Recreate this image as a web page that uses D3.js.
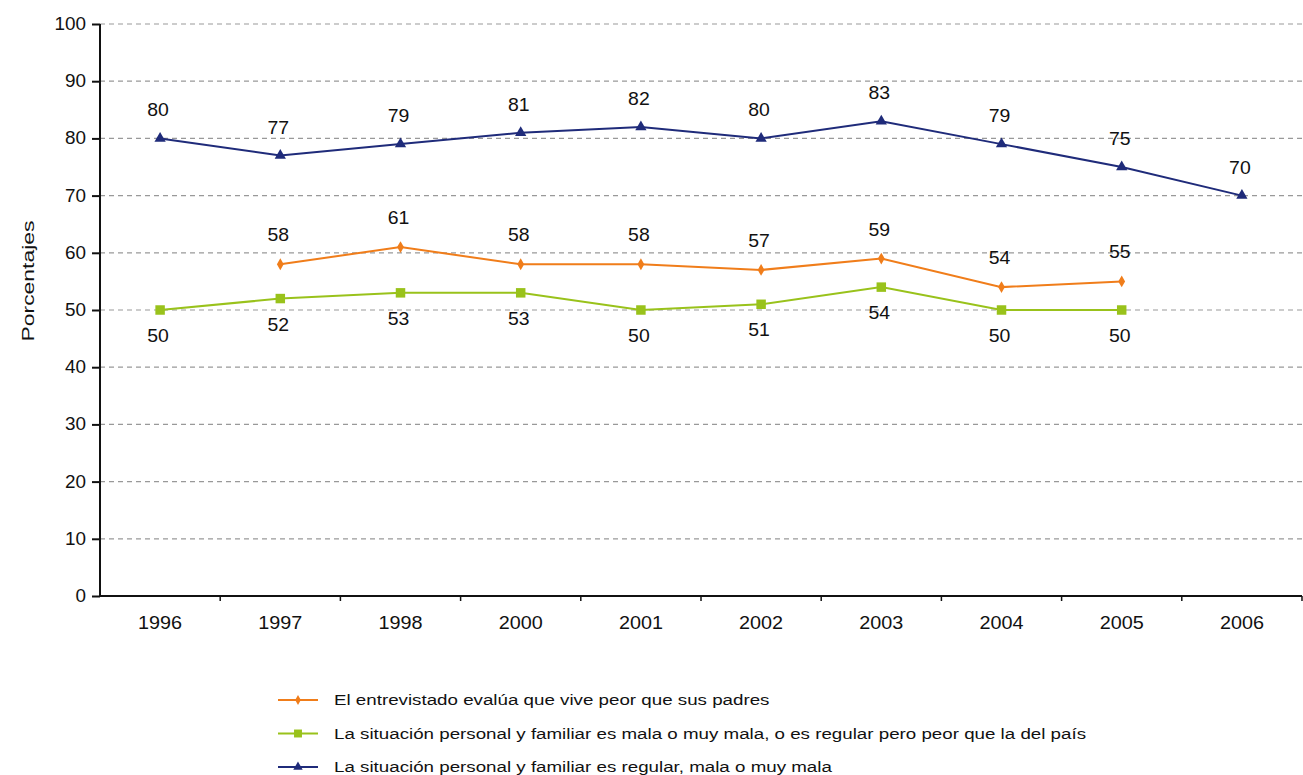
<!DOCTYPE html>
<html><head><meta charset="utf-8">
<script src="https://cdn.jsdelivr.net/npm/d3@7"></script>
<style>body{margin:0;background:#fff}svg{display:block}text{font-family:"Liberation Sans",Arial,sans-serif;fill:#111}</style>
</head><body><svg id="c" width="1303" height="775"></svg>
<script>
const years = ["1996","1997","1998","2000","2001","2002","2003","2004","2005","2006"];
const peorPadres = [null,58,61,58,58,57,59,54,55,null];
const malaPeorPais = [50,52,53,53,50,51,54,50,50,null];
const regularMala = [80,77,79,81,82,80,83,79,75,70];
const yTicks = [0,10,20,30,40,50,60,70,80,90,100];
const legendLabels = [
  "El entrevistado evalúa que vive peor que sus padres",
  "La situación personal y familiar es mala o muy mala, o es regular pero peor que la del país",
  "La situación personal y familiar es regular, mala o muy mala"
];

const svg = d3.select("#c");
const L=100, R=1302, T=24, B=596;
const x = d3.scaleBand().domain(years).range([L,R]);
const y = d3.scaleLinear().domain([0,100]).range([B,T]);

// stretched text helper (reference uses a wide font)
function wtext(g, px, py, str, size, sx, anchor, fill){
  return g.append("text").attr("transform",`translate(${px},${py}) scale(${sx},1)`)
    .attr("text-anchor",anchor).attr("font-size",size).attr("fill",fill||"#111").text(str);
}

// grid
svg.append("g").selectAll("line").data(yTicks.filter(d=>d>0)).join("line")
  .attr("x1",L).attr("x2",R).attr("y1",d=>y(d)).attr("y2",d=>y(d))
  .attr("stroke","#999").attr("stroke-width",1.2).attr("stroke-dasharray","5,4");

// y axis
const ya = svg.append("g").attr("transform",`translate(${L},0)`)
  .call(d3.axisLeft(y).tickValues(yTicks).tickSize(8).tickFormat(""));
ya.select(".domain").attr("stroke","#111").attr("stroke-width",2).attr("d",`M0,${T}V${B}`);
ya.selectAll(".tick line").attr("stroke","#111").attr("stroke-width",2);
const yl = svg.append("g");
yTicks.forEach(t=>wtext(yl, 86, y(t)+6, t, 18, 1.05, "end"));

// x axis
const xa = svg.append("g").attr("transform",`translate(0,${B})`);
xa.append("line").attr("x1",L).attr("x2",R).attr("stroke","#111").attr("stroke-width",2);
xa.selectAll("line.tk").data(years.map(d=>x(d)+x.bandwidth()).slice(0,-1).concat([R])).join("line")
  .attr("class","tk").attr("x1",d=>d).attr("x2",d=>d).attr("y1",0).attr("y2",5).attr("stroke","#111").attr("stroke-width",1.5);
years.forEach(yr=>wtext(xa, x(yr)+x.bandwidth()/2, 33, yr, 18, 1.1, "middle"));

svg.append("text").attr("transform","translate(34,281) rotate(-90) scale(1.35,1)").attr("text-anchor","middle")
  .attr("font-size",17).attr("fill","#333").text("Porcentajes");

const series = [
  {vals:peorPadres, color:"#f07d1a", shape:"diamond", dy:-23, label:legendLabels[0]},
  {vals:malaPeorPais, color:"#99c21b", shape:"square", dy:32, label:legendLabels[1]},
  {vals:regularMala, color:"#1f2b7a", shape:"triangle", dy:-22, label:legendLabels[2]}
];
const cx = d=>x(d)+x.bandwidth()/2;
const symType = {diamond:d3.symbolDiamond, square:d3.symbolSquare, triangle:d3.symbolTriangle};
const symSize = {diamond:40, square:90, triangle:55};

series.forEach(s=>{
  const pts = years.map((yr,i)=>({yr,v:s.vals[i]})).filter(p=>p.v!=null);
  const line = d3.line().x(p=>cx(p.yr)).y(p=>y(p.v));
  svg.append("path").attr("d",line(pts)).attr("fill","none").attr("stroke",s.color).attr("stroke-width",2);
  svg.append("g").selectAll("path").data(pts).join("path")
    .attr("transform",p=>`translate(${cx(p.yr)},${y(p.v)})`)
    .attr("d",d3.symbol().type(symType[s.shape]).size(symSize[s.shape])()).attr("fill",s.color);
  const lg = svg.append("g");
  pts.forEach(p=>wtext(lg, cx(p.yr)-2, y(p.v)+s.dy, p.v, 18, 1.08, "middle"));
});

// legend
const lg = svg.append("g");
series.forEach((s,i)=>{
  const yy = 700 + i*33.5;
  lg.append("line").attr("x1",278).attr("x2",318).attr("y1",yy).attr("y2",yy).attr("stroke",s.color).attr("stroke-width",2);
  lg.append("path").attr("transform",`translate(298,${yy})`)
    .attr("d",d3.symbol().type(symType[s.shape]).size(symSize[s.shape]*0.7)()).attr("fill",s.color);
  wtext(lg, 334, yy+5, s.label, 15, 1.25, "start", "#222");
});
</script></body></html>
